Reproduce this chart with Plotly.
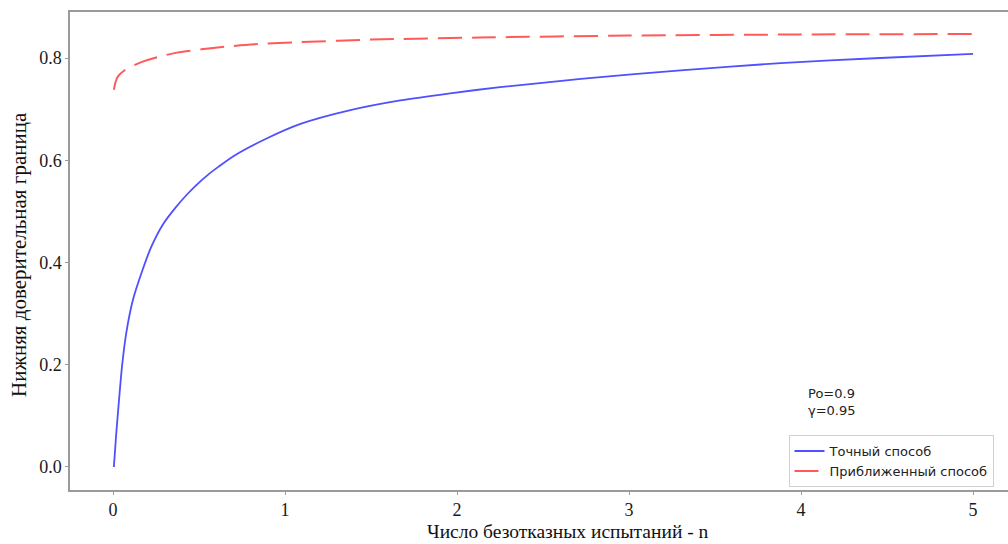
import plotly.graph_objects as go

# Data
n_exact = [0.005, 0.019, 0.035, 0.052, 0.077, 0.116, 0.165, 0.223, 0.291, 0.36, 0.43,
           0.486, 0.55, 0.612, 0.70, 0.89, 1.09, 1.38, 1.67, 1.96, 2.25, 2.72, 3.30,
           3.88, 4.46, 5.0]
p_exact = [0.0, 0.066, 0.131, 0.196, 0.262, 0.327, 0.379, 0.431, 0.475, 0.506, 0.533,
           0.552, 0.571, 0.587, 0.608, 0.642, 0.671, 0.698, 0.717, 0.731, 0.743, 0.759,
           0.776, 0.790, 0.800, 0.808]

n_approx = [0.005, 0.015, 0.029, 0.068, 0.165, 0.262, 0.378, 0.513, 0.649, 0.823, 1.09,
            1.5, 2.13, 3.0, 4.0, 5.0]
p_approx = [0.738, 0.753, 0.764, 0.776, 0.792, 0.802, 0.811, 0.817, 0.822, 0.827, 0.831,
            0.836, 0.840, 0.844, 0.846, 0.847]

x_ticks = [0, 1, 2, 3, 4, 5]
y_ticks = [0.0, 0.2, 0.4, 0.6, 0.8]
y_tick_labels = ["0.0", "0.2", "0.4", "0.6", "0.8"]

fig = go.Figure()
fig.add_trace(go.Scatter(x=n_exact, y=p_exact, mode="lines", name="Точный способ",
                         line=dict(color="#5050ff", width=1.8, shape="spline", smoothing=0.7)))
fig.add_trace(go.Scatter(x=n_approx, y=p_approx, mode="lines", name="Приближенный способ",
                         line=dict(color="#ff5a5a", width=2, dash="24px,10px",
                                   shape="spline", smoothing=0.7)))

axis_common = dict(showgrid=False, zeroline=False, showline=True, linecolor="#9a9a9a",
                   linewidth=1.5, ticks="outside", ticklen=3, tickcolor="#9a9a9a",
                   automargin=False,
                   tickfont=dict(family="Liberation Serif", size=18, color="#1a1a1a"))

fig.update_layout(
    width=1008, height=544,
    margin=dict(l=70, r=0, t=12, b=54),
    paper_bgcolor="white", plot_bgcolor="white",
    xaxis=dict(range=[-0.25, 5.203], tickvals=x_ticks, mirror=True, **axis_common),
    yaxis=dict(range=[-0.045, 0.89], tickvals=y_ticks, ticktext=y_tick_labels,
               **axis_common),
    legend=dict(x=0.766, y=0.115, xanchor="left", yanchor="top",
                bgcolor="rgba(255,255,255,0.8)", bordercolor="#d0d0d0", borderwidth=1,
                font=dict(family="DejaVu Sans", size=13, color="#222"),
                tracegroupgap=0, itemwidth=30),
    showlegend=True,
)

# axis titles
fig.add_annotation(x=(568 - 70) / 938, y=-(543 - 490) / 478, xref="paper", yref="paper",
                   text="Число безотказных испытаний - n", showarrow=False,
                   xanchor="center", yanchor="bottom", borderpad=0,
                   font=dict(family="Liberation Serif", size=19.5, color="#111"))
fig.add_annotation(x=-(70 - 19) / 938, y=(490 - 255) / 478, xref="paper", yref="paper",
                   text="Нижняя доверительная граница", showarrow=False, textangle=-90,
                   xanchor="center", yanchor="middle",
                   font=dict(family="Liberation Serif", size=21, color="#111"))

fig.add_annotation(x=4.03, y=0.163, xref="x", yref="y", xanchor="left", yanchor="top",
                   text="Po=0.9<br>γ=0.95", showarrow=False, align="left",
                   font=dict(family="DejaVu Sans", size=13, color="#222"))

fig.write_html("out.html", config={"displayModeBar": False},
               post_script="document.body.style.margin='0px';document.body.style.overflow='hidden';")
